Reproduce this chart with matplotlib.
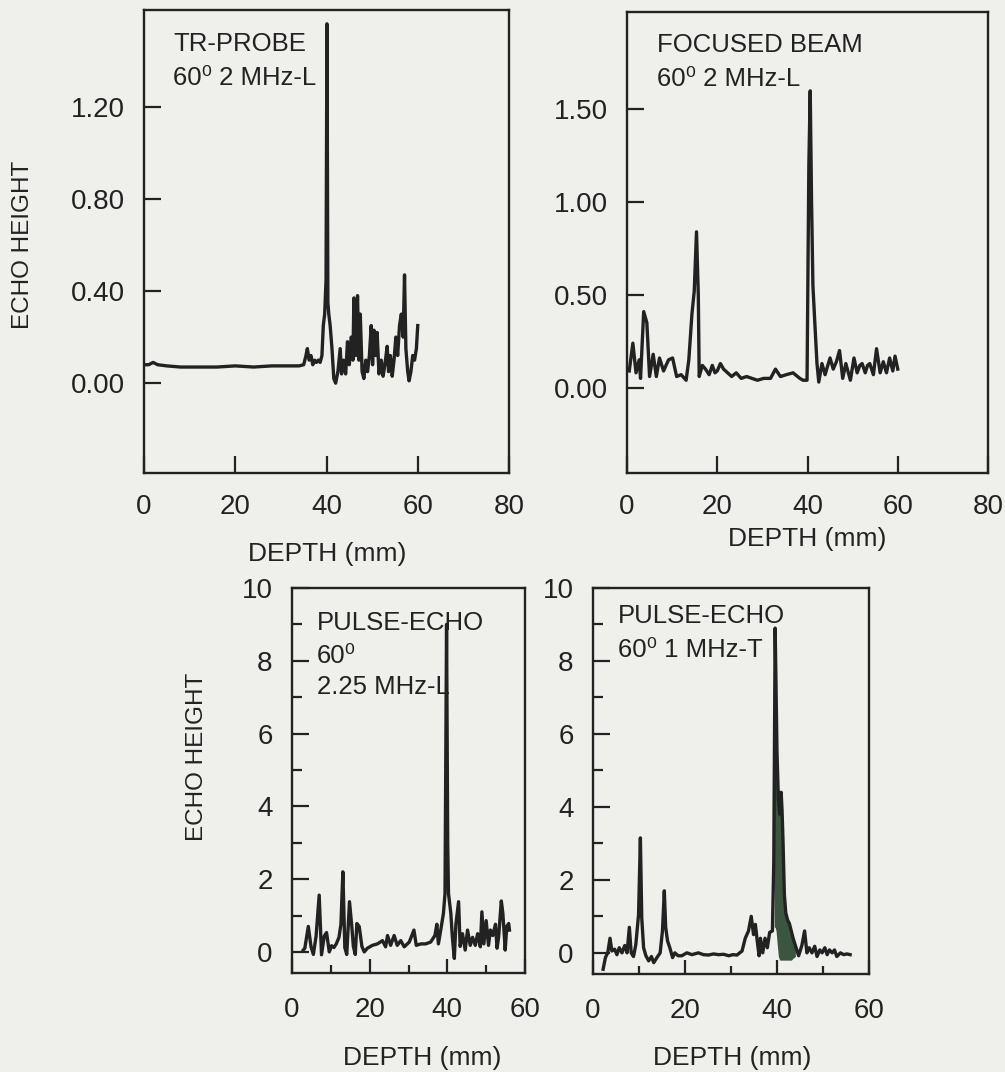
import matplotlib
matplotlib.use('Agg')
import matplotlib.pyplot as plt
import numpy as np
from matplotlib.ticker import MultipleLocator

# ---------------- data ----------------
tr_depth = [0, 1, 2, 3, 5, 8, 12, 16, 20, 24, 28, 32, 34, 35, 35.5, 35.8, 36.2, 36.6, 37.0, 37.4,
            37.8, 38.2, 38.6, 39.0, 39.3, 39.6, 39.9, 40.1, 40.3, 40.5, 40.8, 41.2, 41.6, 42.0, 42.5,
            43.0, 43.3, 43.7, 44.2, 44.6, 45.0, 45.4, 45.8, 46.0, 46.4, 46.8, 47.1, 47.4, 47.8, 48.2,
            48.6, 49.0, 49.4, 49.8, 50.1, 50.4, 50.8, 51.1, 51.5, 52.0, 52.4, 52.8, 53.3, 53.6, 54.0,
            54.4, 54.8, 55.2, 55.6, 56.0, 56.4, 56.8, 57.1, 57.4, 57.8, 58.1, 58.5, 58.9, 59.3, 59.7, 60.0]
tr_echo = [0.08, 0.08, 0.09, 0.08, 0.075, 0.07, 0.07, 0.07, 0.075, 0.07, 0.075, 0.075, 0.075, 0.08,
           0.12, 0.15, 0.10, 0.12, 0.08, 0.10, 0.09, 0.10, 0.09, 0.12, 0.25, 0.30, 0.45, 1.56, 0.35,
           0.30, 0.25, 0.15, 0.02, 0.00, 0.05, 0.15, 0.04, 0.10, 0.04, 0.18, 0.08, 0.20, 0.10, 0.37,
           0.12, 0.38, 0.10, 0.30, 0.05, 0.02, 0.10, 0.05, 0.12, 0.25, 0.08, 0.23, 0.12, 0.22, 0.04,
           0.10, 0.03, 0.08, 0.16, 0.05, 0.12, 0.03, 0.10, 0.20, 0.12, 0.25, 0.30, 0.20, 0.47, 0.15,
           0.05, 0.01, 0.05, 0.12, 0.10, 0.15, 0.25]

fb_depth = [0.5, 1.3, 2.0, 2.7, 3.0, 3.7, 4.4, 5.0, 5.8, 6.5, 7.2, 8.1, 9.2, 10.1, 11.0, 12.0, 13.1,
            13.7, 14.4, 14.9, 15.4, 15.8, 16.0, 16.7, 17.4, 18.2, 18.9, 19.5, 20.0, 20.7, 21.4, 22.3,
            23.2, 24.2, 25.3, 26.5, 27.7, 28.9, 30.3, 31.8, 32.9, 34.0, 35.3, 36.8, 38.3, 39.0, 39.9,
            40.3, 40.6, 40.9, 41.2, 41.6, 42.1, 42.5, 43.2, 43.9, 44.5, 45.0, 45.7, 46.4, 47.1, 47.8,
            48.5, 49.5, 50.3, 51.0, 51.6, 52.1, 52.8, 53.3, 53.8, 54.6, 55.3, 56.1, 56.8, 57.5, 58.2,
            58.9, 59.4, 60.0]
fb_echo = [0.09, 0.24, 0.08, 0.15, 0.05, 0.41, 0.35, 0.06, 0.18, 0.06, 0.16, 0.09, 0.15, 0.16, 0.06,
           0.07, 0.04, 0.15, 0.40, 0.52, 0.84, 0.50, 0.06, 0.12, 0.10, 0.07, 0.12, 0.08, 0.09, 0.13,
           0.10, 0.08, 0.06, 0.08, 0.05, 0.06, 0.05, 0.04, 0.05, 0.05, 0.10, 0.06, 0.07, 0.08, 0.05,
           0.04, 0.04, 1.20, 1.60, 1.00, 0.55, 0.36, 0.13, 0.03, 0.13, 0.07, 0.12, 0.16, 0.10, 0.14,
           0.20, 0.05, 0.13, 0.04, 0.16, 0.08, 0.12, 0.13, 0.08, 0.12, 0.13, 0.07, 0.21, 0.08, 0.14,
           0.08, 0.16, 0.09, 0.17, 0.10]

pe1_depth = [2.9, 3.3, 4.2, 4.9, 5.5, 6.2, 7.0, 7.6, 8.3, 8.9, 9.6, 10.2, 10.8, 11.4, 12.1, 12.6,
             13.1, 13.6, 14.1, 14.8, 15.4, 15.8, 16.3, 16.7, 17.3, 18.0, 18.6, 19.4, 20.7, 22.0, 23.3,
             24.1, 24.6, 25.4, 26.3, 27.1, 28.0, 28.9, 30.2, 31.4, 32.0, 33.2, 34.4, 35.7, 36.8, 37.3,
             37.7, 38.3, 39.0, 39.4, 39.8, 40.1, 40.3, 40.9, 41.3, 41.8, 42.2, 42.9, 43.3, 43.9, 44.6,
             45.2, 45.9, 46.5, 47.2, 47.8, 48.5, 48.9, 49.4, 50.0, 50.6, 51.1, 51.7, 52.4, 52.8, 53.2,
             53.9, 54.3, 54.9, 55.3, 55.8, 56.0]
pe1_echo = [0.05, 0.10, 0.70, 0.14, -0.07, 0.43, 1.56, -0.08, 0.43, 0.53, 0.00, 0.17, 0.12, 0.22,
            0.40, 0.76, 2.20, 0.12, -0.07, 1.38, 0.70, 0.15, -0.07, 0.78, 0.70, 0.15, 0.00, 0.10,
            0.18, 0.22, 0.31, 0.14, 0.45, 0.18, 0.45, 0.18, 0.31, 0.14, 0.27, 0.60, 0.18, 0.22, 0.22,
            0.27, 0.45, 0.76, 0.22, 0.60, 1.06, 1.60, 9.00, 2.97, 1.60, 1.06, 0.40, -0.18, 0.76, 1.38,
            0.15, 0.50, 0.05, 0.60, 0.18, 0.40, 0.18, 0.50, 0.14, 1.10, 0.22, 0.86, 0.18, 0.60, 0.45,
            0.76, 0.10, 0.40, 1.40, 1.06, 0.05, 0.70, 0.78, 0.60]

pe2_depth = [2.2, 2.7, 3.2, 3.7, 4.1, 4.7, 5.2, 5.7, 6.3, 6.9, 7.4, 7.9, 8.3, 8.8, 9.3, 9.9, 10.3,
             10.6, 11.0, 11.5, 12.1, 12.7, 13.2, 13.9, 14.6, 15.1, 15.5, 15.8, 16.2, 16.7, 17.3, 17.8,
             18.5, 19.3, 20.4, 21.5, 22.9, 24.0, 25.1, 26.2, 27.3, 28.4, 29.5, 30.4, 31.3, 32.4, 33.1,
             33.8, 34.4, 34.9, 35.3, 35.7, 36.1, 36.4, 36.9, 37.4, 37.9, 38.4, 39.0, 39.3, 39.6, 39.8,
             40.0, 40.3, 40.6, 40.9, 41.1, 41.3, 41.6, 41.9, 42.3, 42.7, 43.1, 43.5, 44.0, 44.7, 45.4,
             46.0, 46.5, 47.0, 47.6, 48.2, 48.7, 49.3, 49.8, 50.4, 50.9, 51.4, 52.0, 52.5, 53.0, 53.8,
             54.5, 55.2, 55.9]
pe2_echo = [-0.45, -0.13, 0.00, 0.40, 0.05, 0.10, -0.05, 0.14, 0.00, 0.20, 0.00, 0.70, 0.00, -0.10,
            0.22, 1.04, 3.15, 0.95, 0.14, -0.08, -0.22, -0.10, -0.27, -0.13, 0.00, 0.60, 1.70, 0.70,
            0.33, 0.14, -0.13, 0.00, -0.08, -0.08, 0.00, -0.05, 0.00, -0.05, -0.06, -0.03, -0.05,
            -0.04, -0.08, -0.05, -0.06, 0.05, 0.40, 0.60, 1.00, 0.50, 0.78, 0.33, -0.08, 0.40, 0.00,
            0.40, 0.14, 0.56, 0.60, 2.50, 8.90, 7.20, 5.50, 4.20, 3.80, 4.40, 3.90, 3.10, 1.60, 1.10,
            0.90, 0.80, 0.60, 0.40, 0.20, -0.08, 0.20, 0.60, 0.00, 0.14, 0.00, 0.18, -0.10, 0.08,
            0.00, 0.14, -0.05, 0.08, 0.00, 0.08, -0.10, 0.00, -0.05, -0.03, -0.05]
# lower edge of the densely oscillating (filled) part of the main echo, 1 MHz-T
pe2_band_depth = [39.4, 39.6, 39.8, 40.0, 40.3, 40.6, 40.9, 41.1, 41.3, 41.6, 41.9, 42.3, 42.7, 43.1, 43.5, 44.0]
pe2_band_low = [0.7, 0.7, 0.6, 0.3, -0.1, -0.2, -0.2, -0.2, -0.2, -0.2, -0.2, -0.2, -0.2, -0.2, -0.15, -0.1]

# ---------------- styling ----------------
FONT = ['Liberation Sans Narrow', 'Liberation Sans', 'DejaVu Sans']
plt.rcParams['font.family'] = FONT

BG = '#efefeb'
INK = '#222222'
W, H = 1005, 1072
LW = 2.4

fig = plt.figure(figsize=(W / 100, H / 100), dpi=100, facecolor=BG)


def rect(l, t, r, b):
    return [l / W, 1 - b / H, (r - l) / W, (b - t) / H]


def ftext(x, y, s, **kw):
    kw.setdefault('color', INK)
    fig.text(x / W, 1 - y / H, s, **kw)


def style(ax, xpad, ypad):
    ax.set_facecolor(BG)
    for s in ax.spines.values():
        s.set_linewidth(1.7)
        s.set_color(INK)
    ax.tick_params(which='both', direction='in', colors=INK, width=1.6,
                   labelsize=20, labelcolor=INK)
    ax.tick_params(axis='x', which='both', pad=xpad)
    ax.tick_params(axis='y', which='both', pad=ypad)


# Panel 1: TR-probe
ax1 = fig.add_axes(rect(144, 10, 509, 473))
style(ax1, 15, 14)
ax1.plot(tr_depth, tr_echo, color=INK, lw=LW)
ax1.set_xlim(0, 80)
ax1.set_ylim(-0.39, 1.62)
ax1.set_xticks([0, 20, 40, 60, 80])
ax1.set_yticks([0, 0.4, 0.8, 1.2], labels=['0.00', '0.40', '0.80', '1.20'])
ax1.tick_params(which='major', length=12)

# Panel 2: focused beam
ax2 = fig.add_axes(rect(627, 12, 988, 473))
style(ax2, 15, 14)
ax2.plot(fb_depth, fb_echo, color=INK, lw=LW)
ax2.set_xlim(0, 80)
ax2.set_ylim(-0.46, 2.025)
ax2.set_xticks([0, 20, 40, 60, 80])
ax2.set_yticks([0, 0.5, 1.0, 1.5], labels=['0.00', '0.50', '1.00', '1.50'])
ax2.tick_params(which='major', length=12)

# Panel 3: pulse-echo 2.25 MHz-L
ax3 = fig.add_axes(rect(292, 588, 525, 973))
style(ax3, 17, 14)
ax3.plot(pe1_depth, pe1_echo, color=INK, lw=LW)
ax3.set_xlim(0, 60)
ax3.set_ylim(-0.58, 10)

# Panel 4: pulse-echo 1 MHz-T
ax4 = fig.add_axes(rect(593, 588, 869, 974))
style(ax4, 17, 14)
upper = np.interp(pe2_band_depth, pe2_depth, pe2_echo)
ax4.fill_between(pe2_band_depth, pe2_band_low, upper, color='#3c5541', lw=0)
ax4.plot(pe2_depth, pe2_echo, color=INK, lw=LW)
ax4.set_xlim(0, 60)
ax4.set_ylim(-0.58, 10)

for ax in (ax3, ax4):
    ax.set_xticks([0, 20, 40, 60])
    ax.xaxis.set_minor_locator(MultipleLocator(10))
    ax.set_yticks([0, 2, 4, 6, 8, 10])
    ax.yaxis.set_minor_locator(MultipleLocator(1))
    ax.tick_params(axis='y', which='major', length=12)
    ax.tick_params(axis='y', which='minor', length=7)
    ax.tick_params(axis='x', which='major', length=10)
    ax.tick_params(axis='x', which='minor', length=6)

# panel annotations
TS = 18.5
ftext(173, 44, 'TR-PROBE', fontsize=TS, va='center')
ftext(173, 78, '60\u2070 2 MHz-L', fontsize=TS, va='center')
ftext(657, 45, 'FOCUSED BEAM', fontsize=TS, va='center')
ftext(657, 79, '60\u2070 2 MHz-L', fontsize=TS, va='center')
ftext(317, 623, 'PULSE-ECHO', fontsize=TS, va='center')
ftext(317, 656, '60\u2070', fontsize=TS, va='center')
ftext(317, 687, '2.25 MHz-L', fontsize=TS, va='center')
ftext(618, 616, 'PULSE-ECHO', fontsize=TS, va='center')
ftext(618, 650, '60\u2070 1 MHz-T', fontsize=TS, va='center')

# axis labels
ftext(23, 245, 'ECHO HEIGHT', fontsize=17.5, rotation=90, ha='center', va='center')
ftext(197, 757, 'ECHO HEIGHT', fontsize=17.5, rotation=90, ha='center', va='center')
ftext(327, 554, 'DEPTH (mm)', fontsize=19, ha='center', va='center')
ftext(807, 539, 'DEPTH (mm)', fontsize=19, ha='center', va='center')
ftext(422, 1058, 'DEPTH (mm)', fontsize=19, ha='center', va='center')
ftext(732, 1058, 'DEPTH (mm)', fontsize=19, ha='center', va='center')

fig.savefig('out.png', dpi=100, facecolor=BG)
